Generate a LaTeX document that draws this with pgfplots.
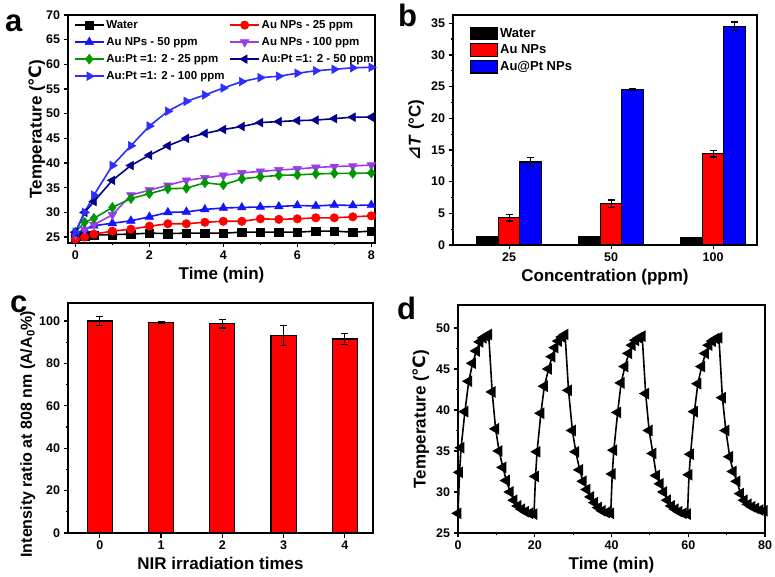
\documentclass[border=0pt]{standalone}
\usepackage{fontspec}
\setmainfont{Liberation Sans}
\newfontfamily\dejavu{DejaVu Sans}
\usepackage{pgfplots}
\usepackage{pgfplotstable}
\pgfplotsset{compat=1.18}

\definecolor{cpurple}{RGB}{155,60,235}
\definecolor{cgreen}{RGB}{0,150,0}
\definecolor{cnavy}{RGB}{0,0,140}
\definecolor{cblue}{RGB}{20,20,255}
\definecolor{cblueb}{RGB}{45,45,255}

\newcommand{\degc}{{\dejavu\bfseries ℃}}

\pgfplotsset{
  panel/.style={
    scale only axis, anchor=south west,
    axis line style={line width=1.4pt},
    every tick/.style={black, line width=1.2pt},
    tick align=outside, major tick length=4.5pt, minor tick length=2.5pt,
    xtick pos=bottom, ytick pos=left,
    tick label style={font=\fontsize{12.5}{13}\selectfont\bfseries},
    label style={font=\fontsize{17}{18}\selectfont\bfseries},
    /pgf/number format/assume math mode=true,
  },
  errs/.style={error bars/.cd, y dir=both, y explicit,
    error bar style={black, line width=1.2pt},
    error mark options={black, rotate=90, mark size=3.5pt, line width=1.2pt}},
}

% panel a: heating curves
\pgfplotstableread{
t    water au25 au50 au100 pt25 pt50 pt100
0    25.0  24.6 25.8 25.5  26.0 26.0 26.0
0.25 25.2  25.0 26.5 26.5  28.0 30.0 30.0
0.5  25.4  25.6 27.3 27.5  28.8 32.2 33.5
1    25.5  26.2 27.8 29.5  31.0 36.5 39.5
1.5  25.6  26.6 28.3 33.5  32.8 39.5 43.5
2    25.8  27.2 29.1 34.5  33.8 41.6 47.5
2.5  25.7  27.7 30.0 35.5  34.8 43.5 50.5
3    25.8  27.7 30.1 36.5  34.9 45.0 52.5
3.5  25.8  28.0 30.6 37.0  36.0 46.0 53.8
4    25.8  28.2 30.9 37.5  35.6 46.8 55.2
4.5  26.0  28.2 31.0 38.0  36.8 47.4 56.5
5    26.0  28.7 31.1 38.3  37.2 48.2 57.3
5.5  26.0  28.6 31.2 38.6  37.5 48.4 57.6
6    26.0  28.7 31.4 38.8  37.6 48.6 58.2
6.5  26.2  28.9 31.3 39.1  37.8 48.7 58.7
7    26.2  28.9 31.5 39.3  37.9 49.0 59.0
7.5  26.0  29.1 31.4 39.4  37.9 49.3 59.3
8    26.2  29.3 31.5 39.6  38.0 49.3 59.4
}\tabA

% panel d: four on/off cycles
\pgfplotstableread{
t T
0 27.4
0.4 32.4
0.8 35.4
1.8 39.8
2.8 43.5
3.8 45.7
4.8 47.2
5.7 48.3
6.6 48.8
7.4 49.0
8.0 49.2
8.9 42.2
9.8 37.7
10.7 35.0
11.7 33.0
12.6 31.4
13.6 30.0
14.6 29.0
15.6 28.3
16.6 27.9
17.6 27.6
18.7 27.4
19.8 27.3
20.2 31.9
20.6 34.9
21.6 39.6
22.5 42.9
23.6 45.0
24.5 46.5
25.3 47.6
26.2 48.4
27.1 48.9
27.9 49.2
28.8 42.4
29.8 37.5
30.7 34.9
31.7 32.7
32.6 31.3
33.6 30.3
34.6 29.4
35.6 28.7
36.6 28.1
37.6 27.7
38.7 27.5
39.8 27.4
40.2 32.2
40.6 35.1
41.6 39.7
42.5 43.3
43.5 45.3
44.5 46.9
45.4 47.9
46.3 48.5
47.2 48.8
48.0 49.0
48.9 42.0
49.8 37.5
50.8 34.7
51.7 32.0
52.7 31.0
53.6 30.0
54.6 29.0
55.6 28.3
56.6 27.9
57.6 27.6
58.7 27.4
59.8 27.3
60.2 32.1
60.6 34.6
61.6 39.8
62.5 43.2
63.5 45.3
64.5 46.9
65.4 47.9
66.3 48.4
67.2 48.7
68.0 48.8
68.9 41.5
69.8 37.5
70.8 34.3
71.7 32.5
72.7 31.3
73.6 29.8
74.6 29.0
75.6 28.5
76.6 28.2
77.6 28.0
78.7 27.8
79.8 27.7
}\tabD

\begin{document}
\begin{tikzpicture}
\useasboundingbox (0,0) rectangle (775pt,577pt);

% ---- a ----
\begin{axis}[panel, at={(68pt,334pt)}, width=307pt, height=228pt,
  xmin=-0.2, xmax=8.1, ymin=23.8, ymax=70,
  xtick={0,2,4,6,8}, minor xtick={1,3,5,7},
  ytick={25,30,...,70},
  xlabel={Time (min)}, ylabel={Temperature (\degc)},
  ylabel style={yshift=-6pt},
  legend columns=2, legend cell align=left,
  legend style={draw=none, fill=none, at={(0.01,0.995)}, anchor=north west,
    font=\fontsize{11.5}{12}\selectfont\bfseries, row sep=3.5pt,
    /tikz/every even column/.append style={column sep=3pt}},
  legend image code/.code={\draw[mark repeat=2,mark phase=2,#1] plot coordinates {(0cm,0cm) (0.5cm,0cm) (1cm,0cm)};},
  every axis plot/.append style={line width=1.6pt, mark size=5pt},
]
\addplot[black, mark=square*, mark options={solid, line width=0.5pt, scale=0.85}] table[x=t,y=water] {\tabA};
\addplot[red, mark=*, mark options={solid, line width=0.5pt, scale=0.85}] table[x=t,y=au25] {\tabA};
\addplot[cblue, mark=triangle*, mark options={solid, line width=0.5pt}] table[x=t,y=au50] {\tabA};
\addplot[cpurple, mark=triangle*, mark options={solid, rotate=180, line width=0.5pt}] table[x=t,y=au100] {\tabA};
\addplot[cgreen, mark=diamond*, mark options={solid, line width=0.5pt}] table[x=t,y=pt25] {\tabA};
\addplot[cnavy, mark=triangle*, mark options={solid, rotate=90, line width=0.5pt}] table[x=t,y=pt50] {\tabA};
\addplot[cblueb, mark=triangle*, mark options={solid, rotate=-90, line width=0.5pt}] table[x=t,y=pt100] {\tabA};
\legend{Water, Au NPs - 25 ppm, Au NPs - 50 ppm, Au NPs - 100 ppm, Au:Pt =1: 2 - 25 ppm, Au:Pt =1: 2 - 50 ppm, Au:Pt =1: 2 - 100 ppm}
\end{axis}

% ---- b ----
\begin{axis}[panel, at={(453pt,332pt)}, width=304pt, height=230pt,
  xmin=0.45, xmax=3.43, ymin=0, ymax=36.3,
  xtick={1,2,3}, xticklabels={25,50,100},
  ytick={0,5,...,35}, minor y tick num=1,
  xlabel={Concentration (ppm)}, ylabel={{\dejavu\bfseries ⊿}\textit{T} (°C)},
  ybar=0pt, bar width=0.21,
  legend cell align=left,
  legend style={draw=none, fill=none, at={(0.045,0.96)}, anchor=north west,
    font=\fontsize{13}{14}\selectfont\bfseries, row sep=2pt},
  legend image code/.code={\draw[#1] (0cm,-0.22cm) rectangle (0.95cm,0.22cm);},
]
\addplot[fill=black, draw=black, line width=1.2pt] coordinates {(1,1.3) (2,1.3) (3,1.2)};
\addplot[fill=red, draw=black, line width=1.2pt, errs] coordinates {(1,4.3) +- (0,0.5) (2,6.5) +- (0,0.6) (3,14.4) +- (0,0.5)};
\addplot[fill=blue, draw=black, line width=1.2pt, errs] coordinates {(1,13.1) +- (0,0.7) (2,24.5) +- (0,0.15) (3,34.5) +- (0,0.7)};
\legend{Water, Au NPs, Au@Pt NPs}
\end{axis}

% ---- c ----
\begin{axis}[panel, at={(68pt,44pt)}, width=305pt, height=230pt,
  xmin=-0.52, xmax=4.46, ymin=0, ymax=108.5,
  xtick={0,...,4}, ytick={0,20,...,100}, minor y tick num=1,
  ybar, bar width=0.41,
  xlabel={NIR irradiation times}, ylabel={Intensity ratio at 808 nm (A/A\textsubscript{0}\%)},
  ylabel style={at={(ticklabel cs:0.43)}, yshift=-3pt, font=\fontsize{16}{17}\selectfont\bfseries},
]
\addplot[fill=red, draw=black, line width=1.2pt, errs] coordinates {(0,100) +- (0,2) (1,99.3) +- (0,0.6) (2,98.7) +- (0,2) (3,93.3) +- (0,4.7) (4,91.5) +- (0,2.5)};
\end{axis}

% ---- d ----
\begin{axis}[panel, at={(458pt,44pt)}, width=307pt, height=228pt,
  xmin=0, xmax=80, ymin=25, ymax=52.8,
  xtick={0,20,...,80}, minor x tick num=1,
  ytick={25,30,...,50}, minor y tick num=1,
  xlabel={Time (min)}, ylabel={Temperature (\degc)},
]
\addplot[black, line width=1.6pt, mark=triangle*, mark size=5.2pt, mark options={solid, rotate=90}] table[x=t,y=T] {\tabD};
\end{axis}

\node[anchor=base west, font=\fontsize{31}{31}\selectfont\bfseries, inner sep=0pt] at (5pt,545pt) {a};
\node[anchor=base west, font=\fontsize{31}{31}\selectfont\bfseries, inner sep=0pt] at (398pt,550pt) {b};
\node[anchor=base west, font=\fontsize{31}{31}\selectfont\bfseries, inner sep=0pt] at (10pt,264pt) {c};
\node[anchor=base west, font=\fontsize{31}{31}\selectfont\bfseries, inner sep=0pt] at (397pt,257pt) {d};
\end{tikzpicture}
\end{document}
